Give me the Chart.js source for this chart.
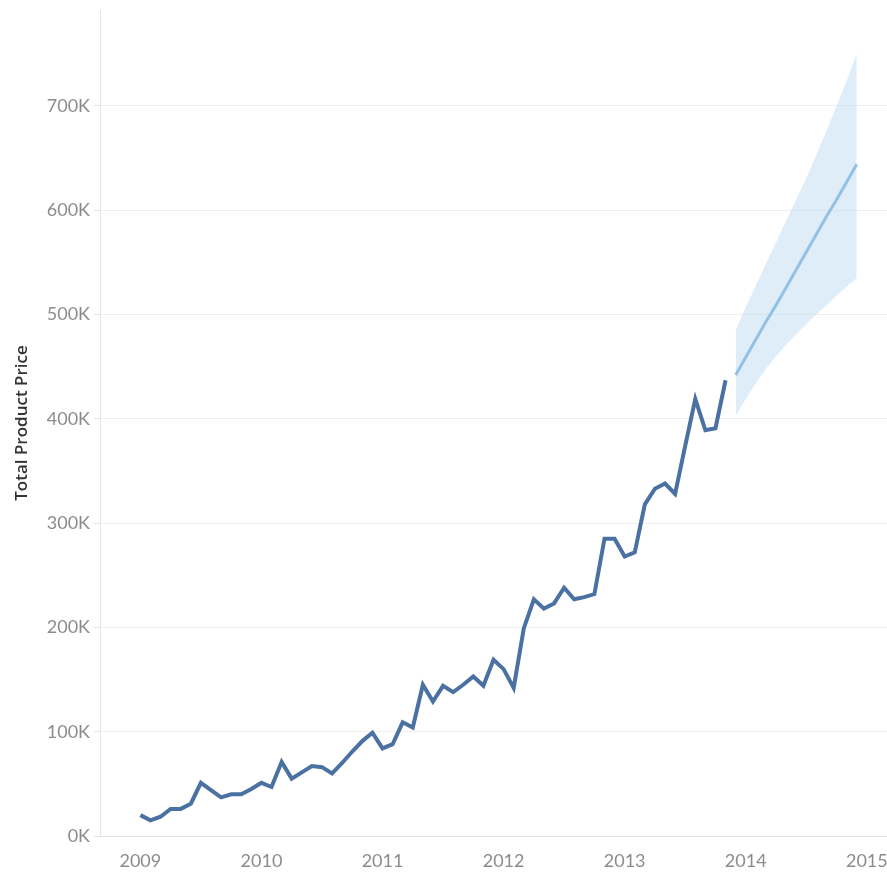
<!DOCTYPE html>
<html lang="en">
<head>
    <meta charset="UTF-8">
    <title>Total Product Price</title>
    <script src="https://cdn.jsdelivr.net/npm/chart.js"></script>
    <style>
        html, body {
            margin: 0;
            padding: 0;
            background: #fff;
        }
        .chart-container {
            position: relative;
            width: 887px;
            height: 873px;
        }
    </style>
</head>
<body>
    <div class="chart-container">
        <canvas id="priceChart"></canvas>
    </div>

    <script>
        // monthly totals (thousands), Jan 2009 .. Nov 2013
        const actual = [
            20, 15, 18.5, 26, 26, 31, 51, 44, 37, 40, 40, 45,
            51, 47, 71, 55, 61, 67, 66, 60, 70, 81, 91, 99,
            84, 88, 109, 104, 145, 129, 144, 138, 145, 153, 144, 169,
            160, 142, 199, 227, 218, 223, 238, 227, 229, 232, 285, 285,
            268, 272, 318, 333, 338, 328, 374, 419, 389, 391, 437
        ];
        // forecast Dec 2013 .. Dec 2014 (thousands)
        const forecast      = [442, 459, 476, 493, 509, 526, 543, 560, 577, 594, 610, 627, 644];
        const forecastUpper = [485, 507, 528, 549, 569, 590, 610, 631, 653, 676, 700, 724, 750];
        const forecastLower = [403, 419, 434, 448, 460, 471, 481, 491, 500, 509, 518, 527, 535];

        const years = ['2009', '2010', '2011', '2012', '2013', '2014', '2015'];
        const yTicks = [0, 100, 200, 300, 400, 500, 600, 700];

        // x = month index from Jan 2009
        const actualPts = actual.map((v, i) => ({ x: i, y: v }));
        const start = actual.length;
        const fcPts = forecast.map((v, i) => ({ x: start + i, y: v }));
        const upPts = forecastUpper.map((v, i) => ({ x: start + i, y: v }));
        const loPts = forecastLower.map((v, i) => ({ x: start + i, y: v }));

        const tickFont = { family: 'Lato', size: 18 };
        const tickColor = '#8c8c8c';

        const ctx = document.getElementById('priceChart').getContext('2d');
        new Chart(ctx, {
            type: 'line',
            data: {
                datasets: [
                    {
                        label: 'Actual',
                        data: actualPts,
                        borderColor: '#4b71a2',
                        borderWidth: 4,
                        pointRadius: 0,
                        tension: 0,
                        fill: false
                    },
                    {
                        label: 'Forecast',
                        data: fcPts,
                        borderColor: '#92c1e6',
                        borderWidth: 3,
                        pointRadius: 0,
                        fill: false
                    },
                    {
                        label: 'Upper',
                        data: upPts,
                        borderWidth: 0,
                        borderColor: 'rgba(0,0,0,0)',
                        backgroundColor: 'rgba(174, 210, 240, 0.4)',
                        pointRadius: 0,
                        fill: '+1'
                    },
                    {
                        label: 'Lower',
                        data: loPts,
                        borderWidth: 0,
                        borderColor: 'rgba(0,0,0,0)',
                        pointRadius: 0,
                        fill: false
                    }
                ]
            },
            options: {
                responsive: true,
                maintainAspectRatio: false,
                animation: false,
                layout: {
                    padding: { top: 10, right: 0, bottom: 0, left: 0 }
                },
                plugins: {
                    legend: { display: false },
                    tooltip: { enabled: false }
                },
                scales: {
                    x: {
                        type: 'linear',
                        min: -4,
                        max: 74,
                        afterBuildTicks: (scale) => {
                            scale.ticks = years.map((y, i) => ({ value: i * 12 }));
                        },
                        afterFit: (scale) => {
                            scale.height = 37;
                            // let the 2015 label run off the edge like the original
                            scale.paddingLeft = 0;
                            scale.paddingRight = 0;
                        },
                        grid: { display: false, drawTicks: false },
                        border: { display: true, color: '#e4e4e4' },
                        ticks: {
                            font: tickFont,
                            color: tickColor,
                            padding: 14,
                            maxRotation: 0,
                            autoSkip: false,
                            callback: (v) => years[v / 12]
                        }
                    },
                    y: {
                        min: 0,
                        max: 792,
                        afterBuildTicks: (scale) => {
                            scale.ticks = yTicks.map(v => ({ value: v }));
                        },
                        afterFit: (scale) => {
                            scale.width = 100;
                            scale.paddingTop = 0;
                            scale.paddingBottom = 0;
                        },
                        grid: {
                            color: '#f0f0f0',
                            tickLength: 6,
                            tickColor: '#e4e4e4'
                        },
                        border: { display: true, color: '#e4e4e4' },
                        title: {
                            display: true,
                            text: 'Total Product Price',
                            color: '#333',
                            font: { family: 'Open Sans', size: 17, weight: '600' },
                            padding: { top: 12, bottom: 4 }
                        },
                        ticks: {
                            font: tickFont,
                            color: tickColor,
                            padding: 4,
                            callback: (v) => v + 'K'
                        }
                    }
                }
            }
        });
    </script>
</body>
</html>
